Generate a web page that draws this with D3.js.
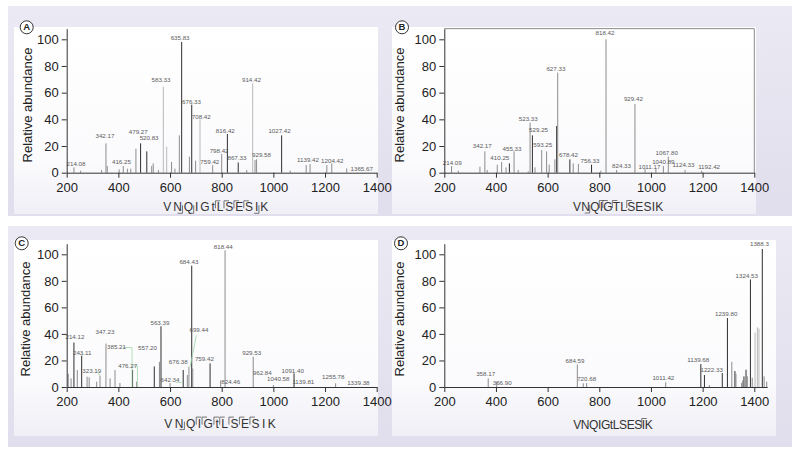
<!DOCTYPE html>
<html><head><meta charset="utf-8">
<script src="https://cdn.jsdelivr.net/npm/d3@7/dist/d3.min.js"></script>
<style>
body{margin:0;background:#fff}
svg{display:block;font-family:"Liberation Sans",Arial,Helvetica,sans-serif}
</style>
</head><body>
<svg id="c" width="800" height="453"></svg>
<script>
// ---------- data ----------
const xTicks = [200, 400, 600, 800, 1000, 1200, 1400];
const yTicks = [0, 20, 40, 60, 80, 100];
const yAxisLabel = "Relative abundance";

// peaks: [m/z, relative abundance, class]  (y = dark, b = light, o = other)
const peaksA = [[228,4,"o"],[254,1.5,"o"],[335,2,"o"],[352,22,"o"],[357,5,"o"],[403,2.5,"o"],[419,5,"o"],[435,3,"o"],[448,3,"o"],[468,18,"o"],[486,22,"y"],[510,16,"y"],[529,5,"o"],[535,7,"o"],[555,2,"o"],[574,64.5,"b"],[587,19.5,"b"],[606,8,"o"],[619,3,"o"],[636,28,"o"],[645,98,"y"],[675,12,"o"],[684,51,"y"],[699,9,"o"],[716,40,"b"],[765,5.7,"o"],[800,14,"o"],[822,29,"y"],[864,7.7,"y"],[897,2,"o"],[920,67,"b"],[929,9.5,"o"],[935,10,"o"],[1032,28,"y"],[1065,1.5,"o"],[1127,5.8,"o"],[1142,6.5,"o"],[1207,5.8,"o"],[1226,7,"o"],[1284,3.2,"o"]];
const labelsA = [["214.08",236,6],["342.17",348,27],["416.25",412,7.75],["479.27",477,30],["520.83",519,25.7],["583.33",565,69.5],["635.83",639,101],["676.33",683,53],["708.42",721,41.5],["759.42",754,7.5],["798.42",790,16],["816.42",814,31],["867.33",859,10.5],["914.42",915,69],["929.58",954,12.75],["1027.42",1024,30.75],["1139.42",1134,9.25],["1204.42",1228,8.25],["1365.67",1342,2.5]];

const peaksB = [[228,5,"o"],[254,1.5,"o"],[338,4.5,"o"],[357,16,"o"],[366,2,"o"],[405,6,"o"],[422,8,"o"],[439,4,"o"],[452,7,"y"],[470,16,"o"],[486,2,"o"],[525,1,"o"],[532,37.5,"o"],[541,28,"y"],[551,4,"o"],[577,17,"o"],[596,16,"o"],[606,6,"o"],[628,10,"o"],[635,35,"y"],[639,75,"o"],[686,10,"y"],[699,7,"o"],[719,6.5,"o"],[770,6,"y"],[806,1.5,"o"],[826,100,"o"],[867,2,"o"],[938,51.5,"o"],[977,3,"o"],[1019,3,"o"],[1048,5,"o"],[1067,12,"o"],[1132,2,"o"],[1196,1.5,"o"]];
const labelsB = [["214.09",231,7.25],["342.17",347,19.5],["410.25",415,10.75],["455.33",462,17.75],["523.33",525,40.25],["529.25",565,31.5],["593.25",581,20.25],["627.33",632,77.75],["678.42",681,12.75],["756.33",764,8.25],["818.42",822,104.5],["824.33",886,4.5],["929.42",932,55],["1011.17",994,3.75],["1040.89",1048,7.75],["1067.80",1061,14.5],["1124.33",1126,5.25],["1192.42",1225,3.75]];

const peaksC = [[206,10,"o"],[217,6.5,"o"],[228,33.5,"y"],[241,12.8,"o"],[258,23.5,"y"],[279,7.8,"o"],[287,7.3,"o"],[316,4,"o"],[329,8.5,"o"],[352,32.7,"o"],[368,6.5,"o"],[387,12.8,"o"],[406,3,"o"],[455,12.8,"y"],[471,4,"o"],[539,15.5,"y"],[559,19,"o"],[565,45.7,"y"],[600,3,"o"],[651,12.8,"y"],[667,9,"o"],[673,15.3,"o"],[684,91.4,"y"],[688,14,"o"],[755,17.8,"y"],[796,5,"o"],[813,103,"o"],[922,22.8,"o"],[1000,1.5,"o"],[1080,10.3,"y"],[1241,2.8,"o"]];
const labelsC = [["214.12",232,37.2],["243.11",260,25.2],["323.19",297,11.8],["347.23",348,41],["385.21",393,29.7],["476.27",436,15.8],["557.20",513,28.9],["563.39",561,48.2],["642.34",600,4.8],["676.38",632,18.8],["684.43",673,93.7],["699.44",712,42.7],["759.42",733,20.6],["818.44",806,105.5],["824.46",835,3.3],["929.53",916,25.6],["962.84",957,10.6],["1040.58",1019,5.6],["1091.40",1075,12.1],["1139.81",1116,3.3],["1255.78",1232,7.5],["1339.38",1329,3]];
// label-to-peak connectors in panel C: [m/z1, abundance1, m/z2, abundance2]
const connectorsC = [[266,25.2,258,23.5],[318,11.8,329,8.5],[416,29.7,453,29.7],[453,29.7,453,0],[458,15.8,474,15.8],[474,15.8,474,0],[678,15.3,702,39],[622,3.5,650,3.5]];

const peaksD = [[370,6.5,"o"],[403,4,"o"],[715,17,"o"],[738,2.8,"o"],[751,3,"o"],[1057,3.5,"o"],[1193,17.3,"y"],[1207,9,"y"],[1226,1.5,"o"],[1276,10.5,"y"],[1296,52,"y"],[1313,19,"o"],[1325,12,"y"],[1329,10,"o"],[1351,3,"o"],[1355,5,"o"],[1360,8,"y"],[1368,13,"y"],[1373,8,"o"],[1385,81,"y"],[1392,7,"o"],[1403,41,"b"],[1412,45,"b"],[1418,44,"b"],[1431,104,"y"],[1438,8,"o"],[1448,4,"o"]];
const labelsD = [["358.17",360,9.8],["366.90",424,2.8],["684.59",706,19.6],["720.68",751,5.8],["1011.42",1048,6.5],["1139.68",1183,20.3],["1222.33",1235,12.3],["1239.80",1291,54.8],["1324.53",1371,83.6],["1388.3",1420,107.5]];

// peptide sequences and fragment marks (gap index = before letter i)
const seqA = "VNQIGtLSESIK", upperA = [6,7,8,9], lowerA = [2,3,11];
const seqB = "VNQIGTLSESIK", upperB = [3,4,5,7], lowerB = [2];
const seqC = "VNQIGtLSESIK", upperC = [3,4,5,6,7,8,9], lowerC = [2];
const seqD = "VNQIGtLSESIK", upperD = [10], lowerD = [];

// ---------- layout ----------
const panels = [
  {tag:"A", peaks:peaksA, labels:labelsA, seq:seqA, up:upperA, lo:lowerA, x0:66.7, base:172.7, k:1.334, xMax:1400,
   circ:[26.7,27.3], ylab:[28.5,105], seqX:216.7, seqY:211.3, ls:1.9, bg:[14,27,378,214], frame:false},
  {tag:"B", peaks:peaksB, labels:labelsB, seq:seqB, up:upperB, lo:lowerB, x0:444.3, base:172.7, k:1.334, xMax:1400,
   circ:[402,27.3], ylab:[401,105], seqX:618.3, seqY:211, ls:0.2, bg:[392,27,756,214], frame:true},
  {tag:"C", peaks:peaksC, labels:labelsC, seq:seqC, up:upperC, lo:lowerC, x0:66.7, base:387, k:1.327, xMax:1400,
   circ:[21.7,243.3], ylab:[26.5,319], seqX:221.3, seqY:427.6, ls:2.5, bg:[14,240,378,436], frame:false},
  {tag:"D", peaks:peaksD, labels:labelsD, seq:seqD, up:upperD, lo:lowerD, x0:444.3, base:387, k:1.327, xMax:1450,
   circ:[401,243.3], ylab:[401,319], seqX:612.8, seqY:429, ls:-0.4, bg:[392,240,776,436], frame:false}
];
const pxPerMz = 310/1200;
const colorOf = d3.scaleOrdinal().domain(["y","b","o"]).range(["#2e2e2e","#b9b9b9","#8c8c8c"]);

const svg = d3.select("#c");
const defs = svg.append("defs");
const gbg = defs.append("linearGradient").attr("id","bg").attr("x1",0).attr("y1",0).attr("x2",0).attr("y2",1);
gbg.append("stop").attr("offset","0%").attr("stop-color","#ebe9f3");
gbg.append("stop").attr("offset","100%").attr("stop-color","#e1deed");
svg.append("rect").attr("x",8).attr("y",6).attr("width",784).attr("height",210).attr("fill","url(#bg)");
svg.append("rect").attr("x",8).attr("y",226).attr("width",784).attr("height",221).attr("fill","url(#bg)");
const gp = defs.append("linearGradient").attr("id","pbg").attr("x1",0).attr("y1",0).attr("x2",0).attr("y2",1);
gp.append("stop").attr("offset","0%").attr("stop-color","#ffffff");
gp.append("stop").attr("offset","72%").attr("stop-color","#fbfbfd");
gp.append("stop").attr("offset","100%").attr("stop-color","#f0eff6");

panels.forEach(p => {
  const g = svg.append("g");
  const x = d3.scaleLinear().domain([200, p.xMax]).range([p.x0, p.x0 + (p.xMax-200)*pxPerMz]);
  const y = d3.scaleLinear().domain([0, 108]).range([p.base, p.base - 108*p.k]);

  g.append("rect").attr("x",p.bg[0]).attr("y",p.bg[1]).attr("width",p.bg[2]-p.bg[0]).attr("height",p.bg[3]-p.bg[1])
    .attr("fill","url(#pbg)");
  if (p.frame) {
    g.append("path").attr("d",`M${p.x0},${y(108)}H${x(1400)}V${y(0)}`).attr("fill","none").attr("stroke","#8a8a8a").attr("stroke-width",1);
  }

  // peaks
  g.append("g").selectAll("line").data(p.peaks).join("line")
    .attr("x1", d => x(d[0])).attr("x2", d => x(d[0]))
    .attr("y1", y(0)).attr("y2", d => y(d[1]))
    .attr("stroke", d => colorOf(d[2])).attr("stroke-width", 1);

  if (p.tag === "C") {
    g.append("g").selectAll("line").data(connectorsC).join("line")
      .attr("x1", d => x(d[0])).attr("y1", d => y(d[1])).attr("x2", d => x(d[2])).attr("y2", d => y(d[3]))
      .attr("stroke","#9fd4a8").attr("stroke-width",0.8);
  }

  // peak labels
  g.append("g").selectAll("text").data(p.labels).join("text")
    .attr("x", d => x(d[1])).attr("y", d => y(d[2]))
    .attr("text-anchor","middle").attr("dominant-baseline","middle")
    .attr("font-size",6.2).attr("fill","#5a5a5a").text(d => d[0]);

  // axes
  const xa = g.append("g").attr("transform",`translate(0,${y(0)})`)
    .call(d3.axisBottom(x).tickValues(xTicks).tickSize(5).tickSizeOuter(0).tickPadding(5).tickFormat(d3.format("d")));
  const ya = g.append("g").attr("transform",`translate(${p.x0},0)`)
    .call(d3.axisLeft(y).tickValues(yTicks).tickSize(5).tickSizeOuter(0).tickPadding(3));
  [xa, ya].forEach(a => {
    a.select(".domain").attr("stroke","#333");
    a.selectAll(".tick line").attr("stroke","#333");
    a.selectAll(".tick text").attr("font-size",13).attr("fill","#222").attr("font-family","Liberation Sans, Arial, sans-serif");
  });

  // y label
  g.append("text").attr("transform",`translate(${p.ylab[0]},${p.ylab[1]}) rotate(-90)`)
    .attr("text-anchor","middle").attr("dominant-baseline","middle")
    .attr("font-size",13).attr("fill","#222").text(yAxisLabel);

  // panel letter
  g.append("circle").attr("cx",p.circ[0]).attr("cy",p.circ[1]).attr("r",6.5)
    .attr("fill","#fff").attr("stroke","#333").attr("stroke-width",1);
  g.append("text").attr("x",p.circ[0]).attr("y",p.circ[1]+0.5).attr("text-anchor","middle").attr("dominant-baseline","middle")
    .attr("font-size",9.5).attr("font-weight","bold").attr("fill","#222").text(p.tag);

  // sequence
  const st = g.append("text").attr("x",p.seqX).attr("y",p.seqY).attr("text-anchor","middle")
    .attr("font-size",12).attr("letter-spacing",p.ls).attr("fill","#333").text(p.seq);
  const node = st.node();
  const gapX = i => node.getStartPositionOfChar(i).x - p.ls/2 - 0.3;
  const b0 = p.seqY;
  g.append("g").selectAll("path").data(p.up).join("path")
    .attr("d", i => `M${gapX(i)},${b0-3}V${b0-10.5}H${gapX(i)+5}`)
    .attr("fill","none").attr("stroke","#555").attr("stroke-width",0.8);
  g.append("g").selectAll("path").data(p.lo).join("path")
    .attr("d", i => `M${gapX(i)},${b0-6}V${b0+2}H${gapX(i)-5}`)
    .attr("fill","none").attr("stroke","#555").attr("stroke-width",0.8);
});
</script>
</body></html>
